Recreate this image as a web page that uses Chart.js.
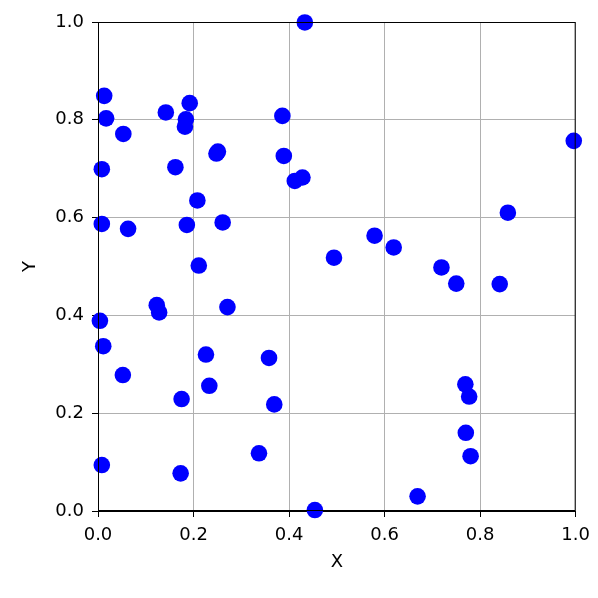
<!DOCTYPE html>
<html lang="en">
<head>
    <meta charset="UTF-8">
    <title>Scatter</title>
    <script src="https://cdn.jsdelivr.net/npm/chart.js"></script>
    <style>
        body { margin: 0; background: #fff; }
    </style>
</head>
<body>
    <canvas id="scatterChart" width="598" height="598"></canvas>

    <script>
        // values
        const xValues = [
            0.013, 0.017, 0.053, 0.008, 0.142, 0.192, 0.184, 0.182, 0.251, 0.248,
            0.162, 0.208, 0.008, 0.063, 0.186, 0.261, 0.386, 0.389, 0.412, 0.428,
            0.433, 0.996, 0.858, 0.579, 0.619, 0.494, 0.719, 0.750, 0.841, 0.769,
            0.777, 0.770, 0.780, 0.669, 0.454, 0.211, 0.123, 0.128, 0.271, 0.004,
            0.011, 0.052, 0.226, 0.358, 0.233, 0.175, 0.369, 0.337, 0.008, 0.173
        ];
        const yValues = [
            0.849, 0.803, 0.771, 0.699, 0.815, 0.834, 0.801, 0.786, 0.735, 0.731,
            0.703, 0.635, 0.587, 0.577, 0.585, 0.590, 0.808, 0.726, 0.675, 0.682,
            0.999, 0.757, 0.610, 0.563, 0.539, 0.518, 0.498, 0.465, 0.464, 0.259,
            0.234, 0.160, 0.112, 0.030, 0.002, 0.502, 0.421, 0.406, 0.417, 0.389,
            0.337, 0.278, 0.320, 0.313, 0.256, 0.229, 0.218, 0.118, 0.094, 0.077
        ];
        const tickStep = 0.2;

        const points = xValues.map((x, i) => ({ x: x, y: yValues[i] }));

        // top and right spines
        const frame = {
            id: 'frame',
            afterDraw(chart) {
                const { ctx, chartArea: a } = chart;
                ctx.save();
                ctx.strokeStyle = '#000';
                ctx.lineWidth = 1;
                ctx.strokeRect(a.left + 0.5, a.top + 0.5, a.right - a.left - 1, a.bottom - a.top - 1);
                ctx.restore();
            }
        };

        const font = { family: 'DejaVu Sans', size: 18 };

        const ctx = document.getElementById('scatterChart').getContext('2d');
        new Chart(ctx, {
            type: 'scatter',
            data: {
                datasets: [{
                    data: points,
                    backgroundColor: 'blue',
                    borderColor: 'blue',
                    borderWidth: 0,
                    pointRadius: 8.3,
                    pointHoverRadius: 8.3,
                    clip: false
                }]
            },
            options: {
                responsive: false,
                animation: false,
                layout: { padding: { left: 0, top: 22, right: 22, bottom: 0 } },
                plugins: { legend: { display: false }, tooltip: { enabled: false } },
                scales: {
                    x: {
                        min: 0, max: 1,
                        afterFit: s => { s.height = 87; },
                        ticks: { stepSize: tickStep, color: '#000', font: font, padding: 8,
                                 maxRotation: 0, callback: v => v.toFixed(1) },
                        grid: { color: '#b0b0b0', tickColor: '#000', tickLength: 6, lineWidth: 1 },
                        border: { color: '#000' },
                        title: { display: true, text: 'X', color: '#000', font: font,
                                 padding: { top: 0, bottom: 25 } }
                    },
                    y: {
                        min: 0, max: 1,
                        afterFit: s => { s.width = 98; },
                        ticks: { stepSize: tickStep, color: '#000', font: font, padding: 8,
                                 callback: v => v.toFixed(1) },
                        grid: { color: '#b0b0b0', tickColor: '#000', tickLength: 6, lineWidth: 1 },
                        border: { color: '#000' },
                        title: { display: true, text: 'Y', color: '#000', font: font,
                                 padding: { top: 20, bottom: 0 } }
                    }
                }
            },
            plugins: [frame]
        });
    </script>
</body>
</html>
